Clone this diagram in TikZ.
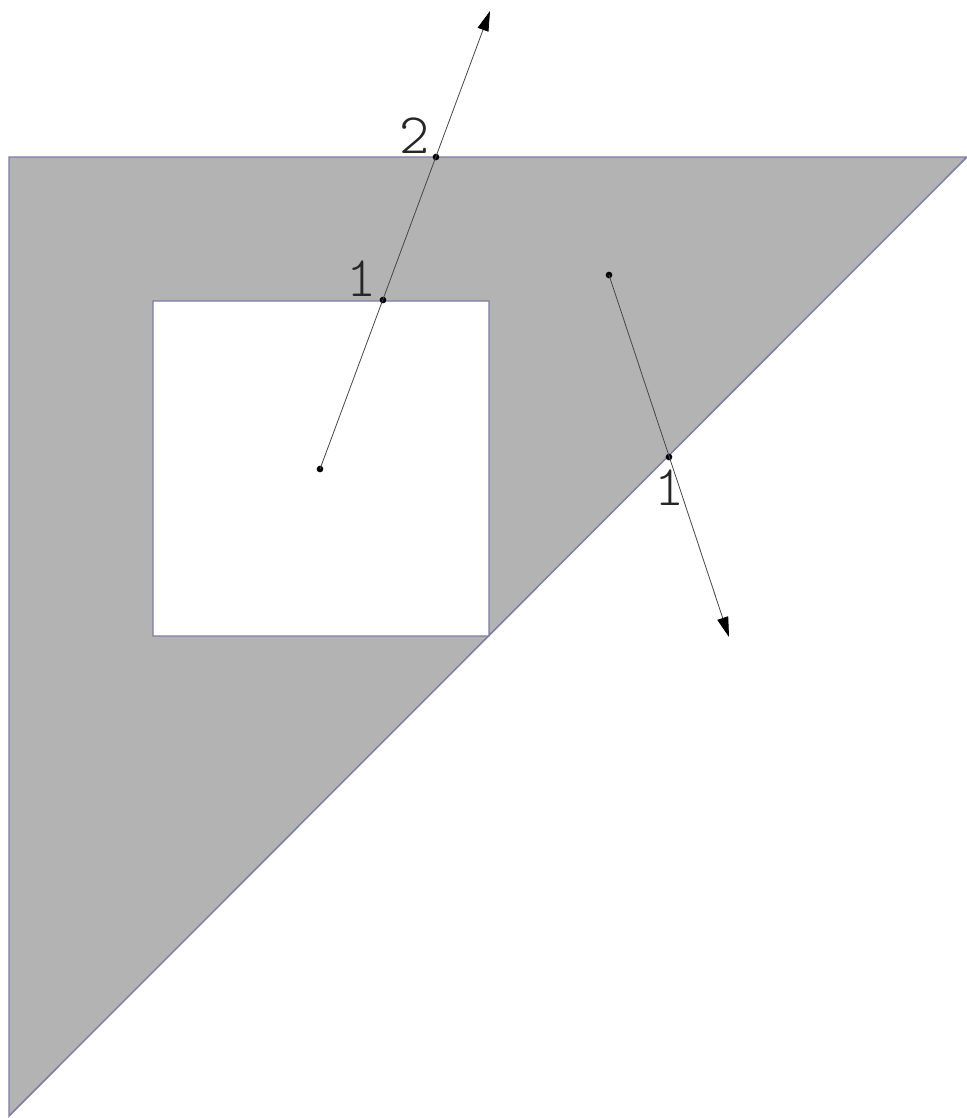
\documentclass[tikz,border=0pt]{standalone}
\usepackage{fontspec}
\setmonofont{Latin Modern Mono Light}
\usepackage{tikz}
\usetikzlibrary{arrows.meta,positioning}
\definecolor{cFill}{RGB}{179,179,179}
\definecolor{cEdge}{RGB}{125,125,165}
\definecolor{cRay}{RGB}{70,70,70}
\tikzset{
  region/.style={fill=cFill,draw=cEdge,line width=1.1pt,even odd rule},
  ray/.style={-{Triangle[length=15pt,width=8.5pt,color=black]},color=cRay,line width=0.6pt},
  hitdot/.style={circle,fill=black,inner sep=0pt,minimum size=5pt},
  hitlbl/.style={font=\ttfamily\fontsize{43}{43}\selectfont,inner sep=0pt,text=black!85}
}
\begin{document}
\begin{tikzpicture}[x=0.75pt,y=-0.75pt]
  \useasboundingbox (0,0) rectangle (967,1118);

  % Region: triangle with square hole
  \path[region] (9,157) -- (967,157) -- (9,1116) -- cycle
                (153,301) rectangle (489,636);

  % Ray from inside the hole
  \node[hitdot] (o1) at (320,469) {};
  \node[hitdot] (h1) at (383,300) {};
  \node[hitdot] (h2) at (436,157) {};
  \coordinate (e1) at (490,11);
  \draw[ray] (o1.center) -- (e1);

  % Ray from inside the region
  \node[hitdot] (o2) at (609,275) {};
  \node[hitdot] (h3) at (669,457) {};
  \coordinate (e2) at (729,637);
  \draw[ray] (o2.center) -- (e2);

  % Crossing counts
  \node[hitlbl] (l1) at (362,279) {1};
  \node[hitlbl] (l2) at (415,136) {2};
  \node[hitlbl] (l3) at (670,488) {1};
\end{tikzpicture}
\end{document}
